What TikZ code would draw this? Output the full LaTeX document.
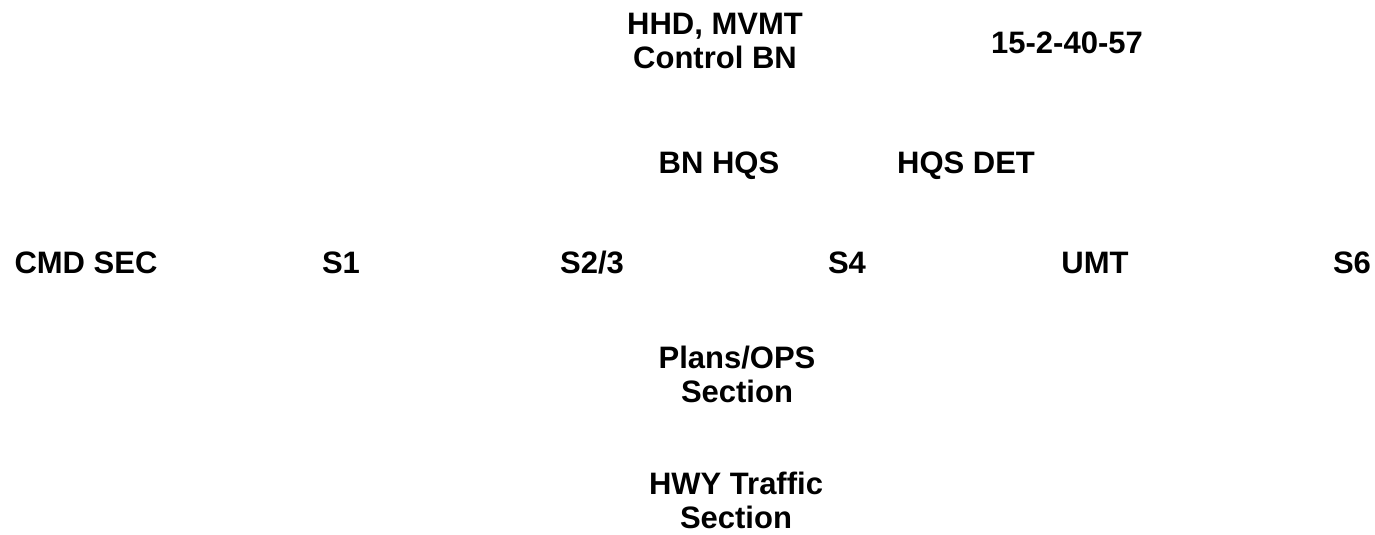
\documentclass[tikz,border=0pt]{standalone}
\usepackage{fontspec}
\setmainfont{Liberation Sans}
\usepackage{tikz}

\begin{document}
\begin{tikzpicture}[x=1pt, y=-1pt,
  lbl/.style={font=\bfseries\fontsize{31}{34}\selectfont, inner sep=0pt, align=center, text=black},
  toplbl/.style={lbl, anchor=north},
  rowlbl/.style={lbl, anchor=base}]
\useasboundingbox (0,0) rectangle (1375,535);
% header
\node[toplbl]  (hhd)       at (715,13)   {HHD, MVMT\\Control BN};
\node[rowlbl]  (regnum)    at (1067,53)  {15-2-40-57};
\node[rowlbl]  (bnhqs)     at (719,173)  {BN HQS};
\node[rowlbl]  (hqsdet)    at (966,173)  {HQS DET};
% staff sections
\node[rowlbl]  (cmdsec)    at (86,273)   {CMD SEC};
\node[rowlbl]  (sone)      at (341,273)  {S1};
\node[rowlbl]  (stwothree) at (592,273)  {S2/3};
\node[rowlbl]  (sfour)     at (847,273)  {S4};
\node[rowlbl]  (umt)       at (1095,273) {UMT};
\node[rowlbl]  (ssix)      at (1352,273) {S6};
% sections below
\node[toplbl]  (plans)     at (737,346)  {Plans/OPS\\Section};
\node[toplbl]  (hwy)       at (736,472)  {HWY Traffic\\Section};
\end{tikzpicture}
\end{document}
